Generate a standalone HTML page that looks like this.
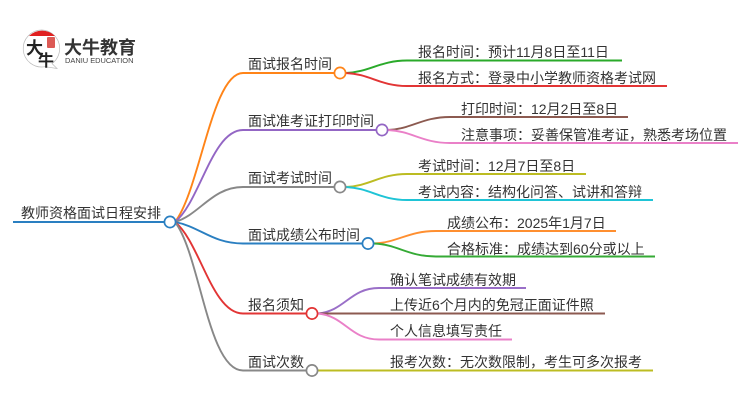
<!DOCTYPE html>
<html lang="zh">
<head>
<meta charset="utf-8">
<style>
html,body{margin:0;padding:0;background:#fff;width:750px;height:410px;overflow:hidden}
svg{display:block}
text{font-family:"Liberation Sans","Noto Sans CJK SC",sans-serif;font-size:14px;fill:#333}
path,line{fill:none;stroke-width:1.9}
circle{fill:#fff;stroke-width:1.7}
</style>
</head>
<body>
<svg width="750" height="410" viewBox="0 0 750 410" xmlns="http://www.w3.org/2000/svg">
<!-- logo -->
<path d="M42 30a18.500 18.500 0 1 0 3 36.700l12 1.800-5-5A18.500 18.500 0 0 0 42 30z" style="stroke:#bbb;stroke-width:.7;fill:#fff"/>
<path d="M29 36a18.500 18.500 0 0 1 26 0z" style="fill:#e02020;stroke:none"/>
<rect x="47" y="37" width="8" height="11" rx="1" fill="#dc5a55"/>
<text x="26" y="54" style="font-size:17px;font-weight:700;fill:#222">大</text>
<text x="38" y="66" style="font-size:16px;font-weight:700;fill:#222">牛</text>
<text x="64" y="54" style="font-size:18px;font-weight:700;fill:#333">大牛教育</text>
<text x="65" y="63" style="font-size:7.450px;fill:#444">DANIU EDUCATION</text>

<!-- root -->
<line x1="13" y1="222" x2="165" y2="222" stroke="#2a7fc1" stroke-width="2.200"/>
<!-- main branches -->
<path d="M175 222C200 190 212 73 243 73H334" stroke="#ff8418"/>
<path d="M175 222C200 202 212 130 243 130H376" stroke="#9366c4"/>
<path d="M175 222C200 214.500 212 187 243 187H334" stroke="#888"/>
<path d="M175 222C200 226.600 212 243.500 243 243.500H362" stroke="#2a7fc1"/>
<path d="M175 222C200 242 212 313.500 243 313.500H306" stroke="#e23535"/>
<path d="M175 222C200 254 208 370.500 243 370.500H306" stroke="#888"/>
<!-- leaves -->
<path d="M346 73C370 72 380 60.500 407 60.500H622" stroke="#2aaa2a"/>
<path d="M346 73C370 74 380 86 407 86H667" stroke="#e23535"/>
<path d="M388 130C412 129 422 117 450 117H628" stroke="#8c5a50"/>
<path d="M388 130C412 131 422 143 450 143H738" stroke="#ea80c8"/>
<path d="M346 187C370 186 380 174 407 174H586" stroke="#bcbc22"/>
<path d="M346 187C370 188 380 200 407 200H653" stroke="#1fc4d6"/>
<path d="M374 243.500C398 242.500 408 231 436 231H616" stroke="#ff8f30"/>
<path d="M374 243.500C398 244.500 408 256.500 436 256.500H655" stroke="#35aa35"/>
<path d="M318 313.500C345 311 350 288 379 288H526" stroke="#9a6fc8"/>
<path d="M318 313.500H605" stroke="#8c5a50"/>
<path d="M318 313.500C345 316 350 339.500 379 339.500H512" stroke="#ea80c8"/>
<path d="M318 370.500H653" stroke="#bcbc22"/>
<!-- nodes -->
<circle cx="170" cy="222" r="5.600" stroke="#2a7fc1"/>
<circle cx="340" cy="73" r="5.600" stroke="#ff8418"/>
<circle cx="382" cy="130" r="5.600" stroke="#9366c4"/>
<circle cx="340" cy="187" r="5.600" stroke="#888"/>
<circle cx="368" cy="243.500" r="5.600" stroke="#2a7fc1"/>
<circle cx="312" cy="313.500" r="5.600" stroke="#e23535"/>
<circle cx="312" cy="370.500" r="5.600" stroke="#888"/>
<!-- labels -->
<text x="21" y="218">教师资格面试日程安排</text>
<text x="248" y="69">面试报名时间</text>
<text x="248" y="126">面试准考证打印时间</text>
<text x="248" y="183">面试考试时间</text>
<text x="248" y="240">面试成绩公布时间</text>
<text x="248" y="310">报名须知</text>
<text x="248" y="367">面试次数</text>
<text x="418" y="57">报名时间：预计11月8日至11日</text>
<text x="418" y="83">报名方式：登录中小学教师资格考试网</text>
<text x="461" y="114">打印时间：12月2日至8日</text>
<text x="461" y="140">注意事项：妥善保管准考证，熟悉考场位置</text>
<text x="418" y="171">考试时间：12月7日至8日</text>
<text x="418" y="197">考试内容：结构化问答、试讲和答辩</text>
<text x="447" y="228">成绩公布：2025年1月7日</text>
<text x="447" y="254">合格标准：成绩达到60分或以上</text>
<text x="390" y="285">确认笔试成绩有效期</text>
<text x="390" y="310">上传近6个月内的免冠正面证件照</text>
<text x="390" y="336">个人信息填写责任</text>
<text x="390" y="367">报考次数：无次数限制，考生可多次报考</text>
</svg>
</body>
</html>
